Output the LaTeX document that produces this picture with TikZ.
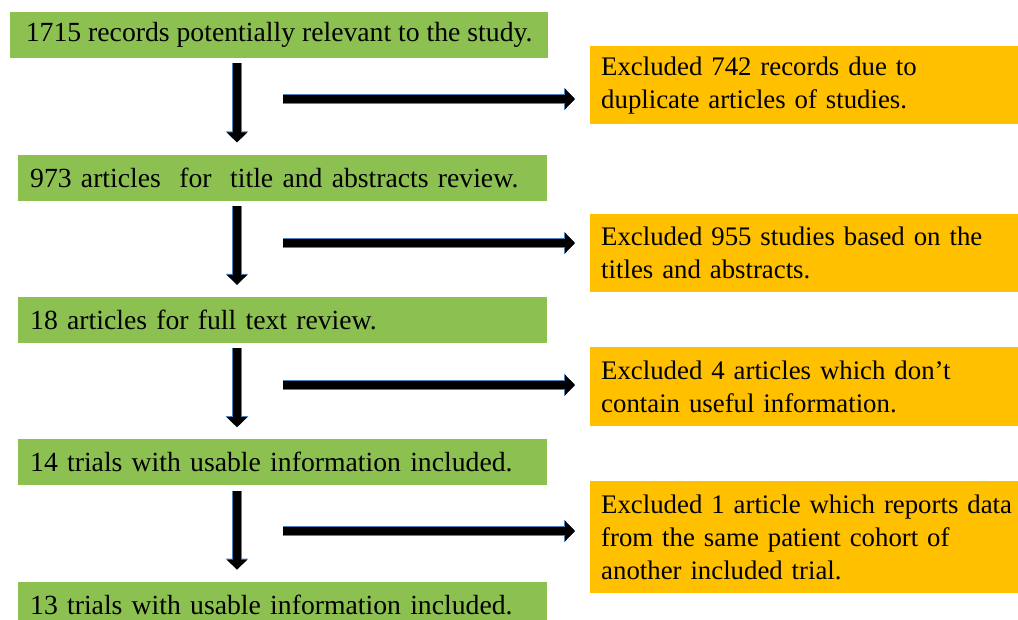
\documentclass[tikz,border=0pt]{standalone}
\usepackage{fontspec}
\setmainfont{Liberation Serif}
\usetikzlibrary{arrows.meta,positioning}
\definecolor{IncGreen}{HTML}{8CC152}
\definecolor{ExcGold}{HTML}{FFC000}
\definecolor{EdgeBlue}{HTML}{4F81BD}

\begin{document}
\begin{tikzpicture}[
x=1pt,y=-1pt,
font=\fontsize{27.7}{33}\selectfont,
node distance=96pt,
incl/.style={fill=IncGreen,anchor=north west,minimum height=46pt,inner xsep=12pt,inner ysep=0pt},
incltext/.style={incl,text width=505pt,align=left},
excl/.style={fill=ExcGold,anchor=north west,inner xsep=11pt,inner ysep=0pt,text width=450pt,align=left,
  font=\fontsize{26.8}{33}\selectfont},
downarr/.style={draw=black,line width=8pt,-{Triangle[length=10pt,width=20pt]},shorten <=5pt,shorten >=12pt,
  preaction={draw=EdgeBlue,line width=10pt,-{Triangle[length=11pt,width=22pt]}}},
rightarr/.style={draw=black,line width=8pt,-{Triangle[length=10pt,width=20pt]},shorten >=15pt,
  preaction={draw=EdgeBlue,line width=10pt,-{Triangle[length=11pt,width=22pt]}}}
]
\useasboundingbox (0,0) rectangle (1018,619);

% included stages
\node[incl,minimum width=538pt] (rec) at (10,12) {1715 records potentially relevant to the study.};
\node[incltext,below=96pt of rec.south west,xshift=8pt,anchor=north west] (tiab) {973 articles\ \ for\ \ title and abstracts review.};
\node[incltext,below=96pt of tiab.south west,anchor=north west] (full) {18 articles for full text review.};
\node[incltext,below=96pt of full.south west,anchor=north west] (trl) {14 trials with usable information included.};
\node[incltext,below=96pt of trl.south west,anchor=north west] (fin) {13 trials with usable information included.};

% exclusions
\node[excl,minimum height=78pt] (dup) at (590,46) {Excluded 742 records due to\\duplicate articles of studies.};
\node[excl,minimum height=78pt] (tit) at (590,214) {Excluded 955 studies based on the\\titles and abstracts.};
\node[excl,minimum height=79pt] (use) at (590,347) {Excluded 4 articles which don’t\\contain useful information.};
\node[excl,minimum height=112pt] (coh) at (590,481) {Excluded 1 article which reports data\\from the same patient cohort of\\another included trial.};

% arrows
\coordinate (col) at (237,0);
\draw[downarr] (rec.south -| col) -- (tiab.north -| col);
\draw[downarr] (tiab.south -| col) -- (full.north -| col);
\draw[downarr] (full.south -| col) -- (trl.north -| col);
\draw[downarr] (trl.south -| col) -- (fin.north -| col);

\coordinate (r1) at (283,99);
\coordinate (r2) at (283,243);
\coordinate (r3) at (283,385);
\coordinate (r4) at (283,531);
\draw[rightarr] (r1) -- (r1 -| dup.west);
\draw[rightarr] (r2) -- (r2 -| tit.west);
\draw[rightarr] (r3) -- (r3 -| use.west);
\draw[rightarr] (r4) -- (r4 -| coh.west);
\end{tikzpicture}
\end{document}
